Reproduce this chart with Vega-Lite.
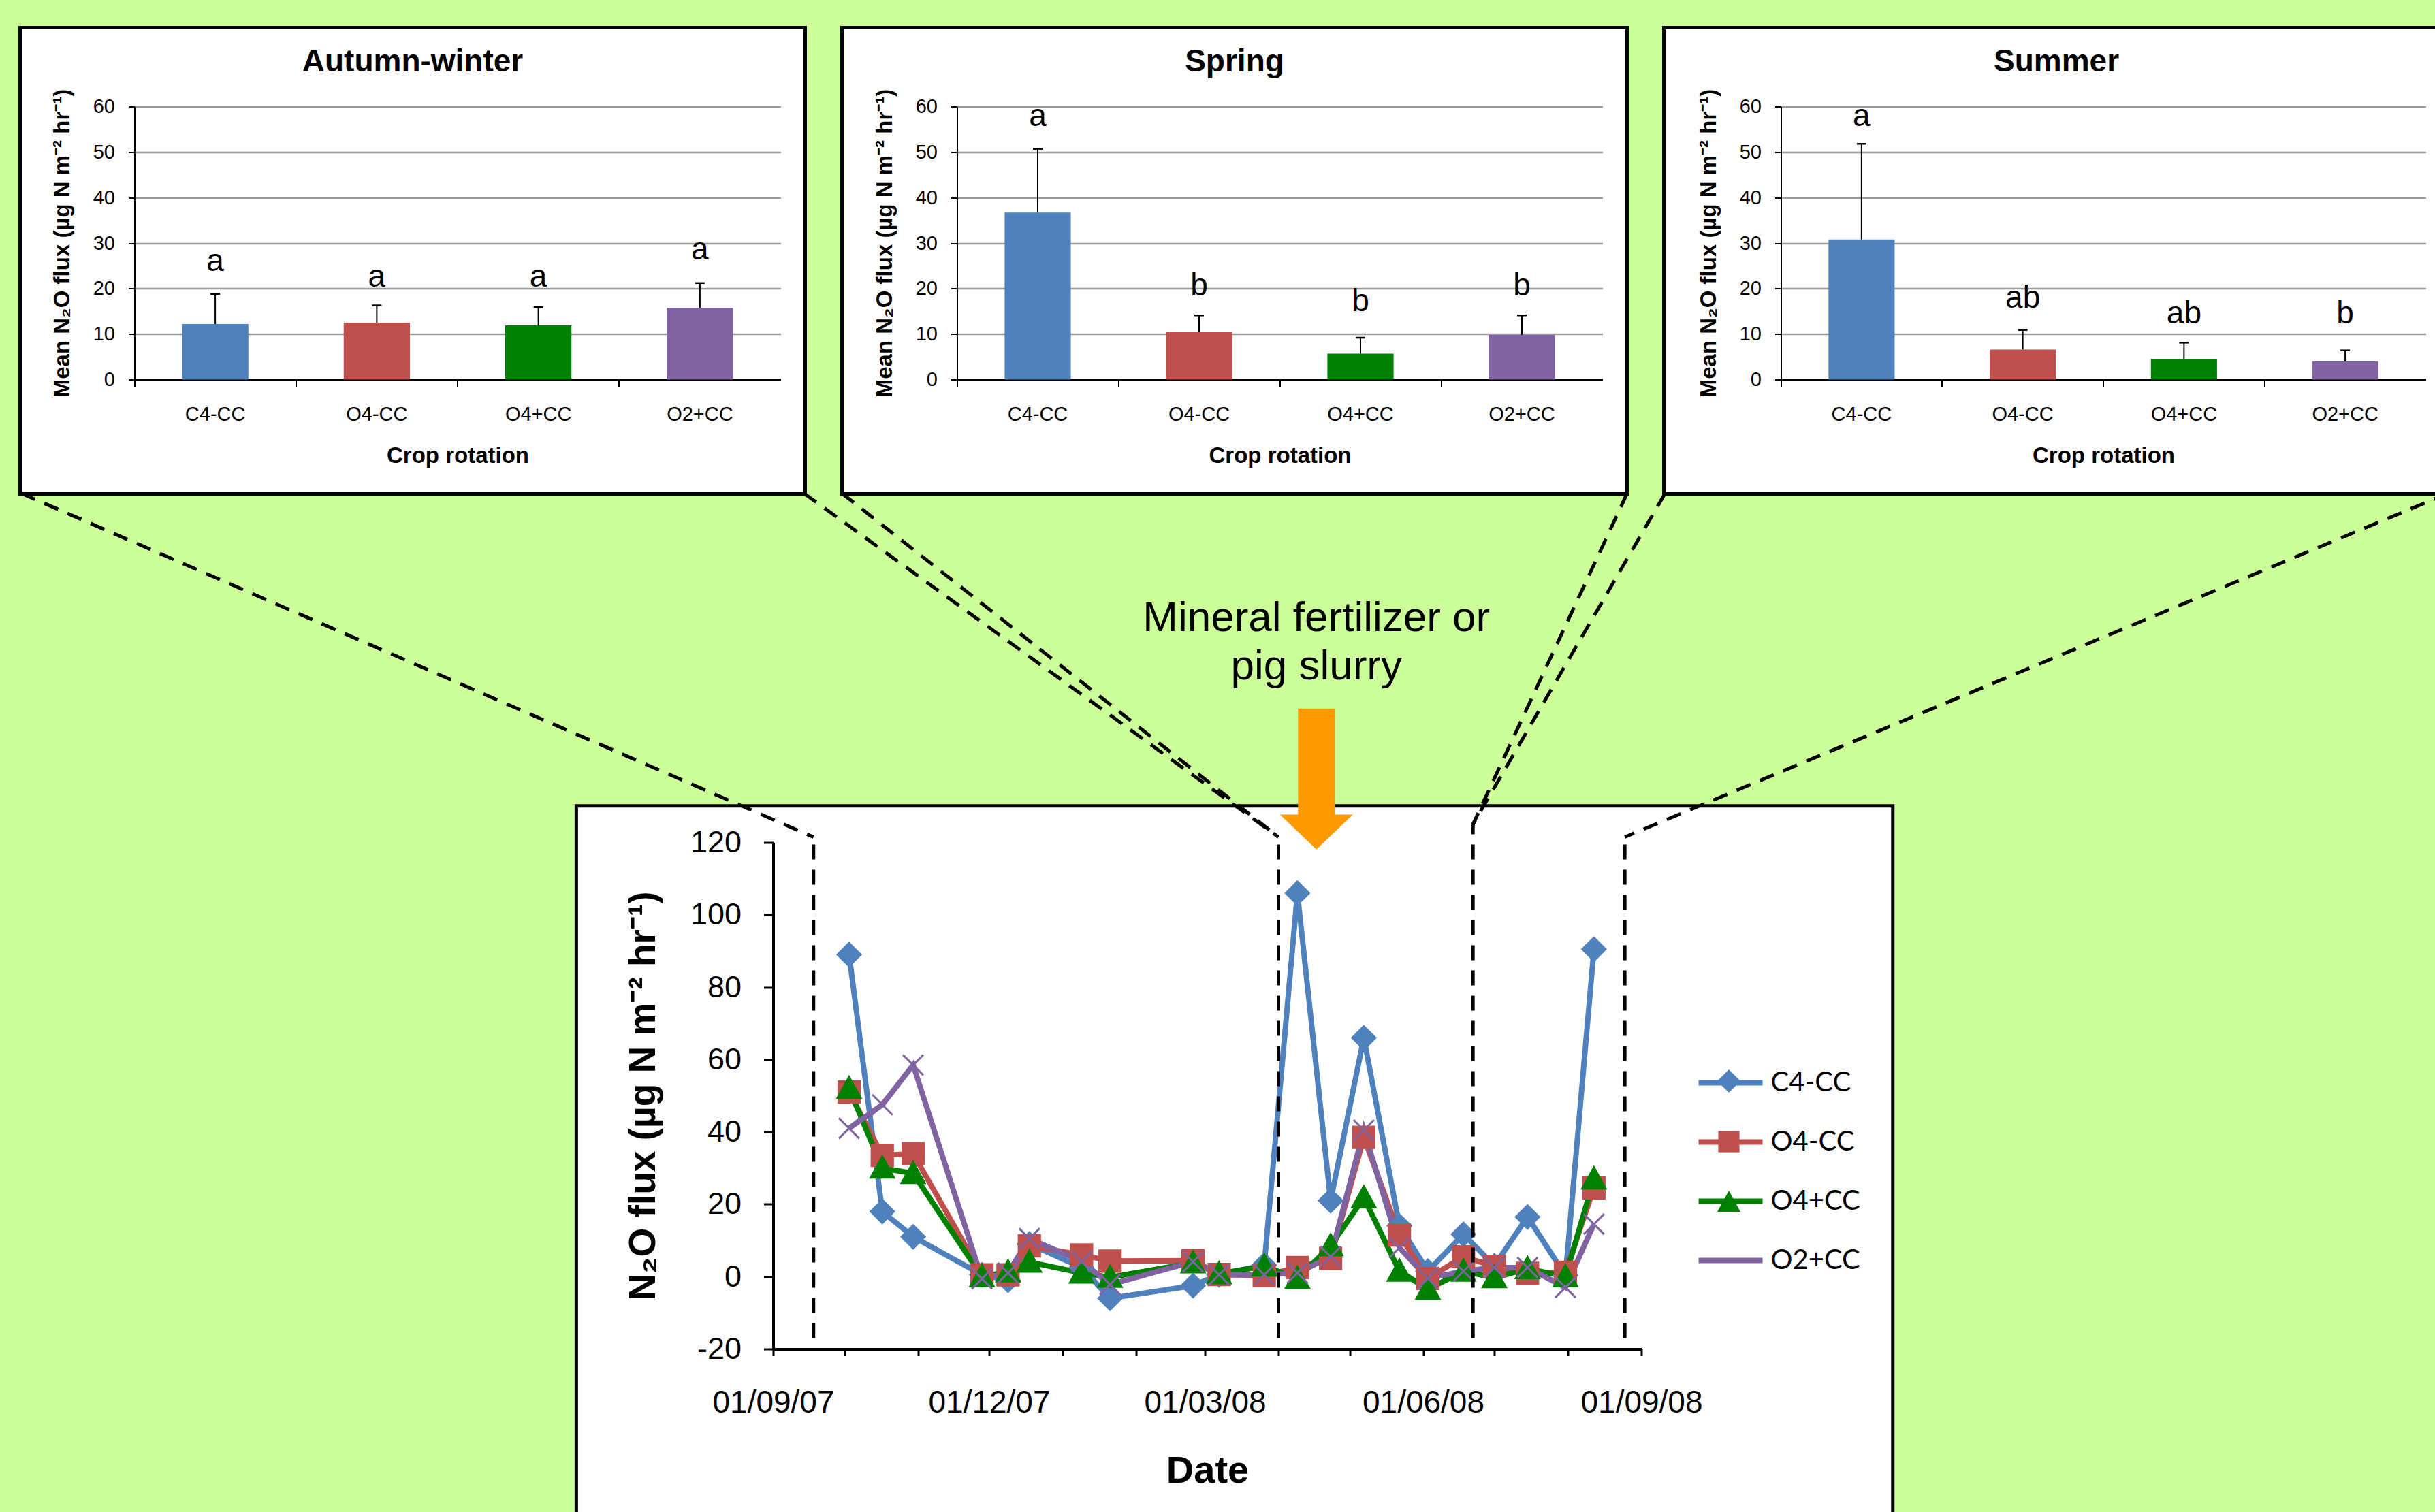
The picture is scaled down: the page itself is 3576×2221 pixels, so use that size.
{
  "$schema": "https://vega.github.io/schema/vega-lite/v6.json",
  "background": "#CCFF99",
  "padding": {"left": 26.5, "top": 37.5, "right": 0, "bottom": 0},
  "bounds": "full",
  "spacing": -7,
  "resolve": {"scale": {"color": "independent", "shape": "independent", "stroke": "independent"}, "legend": {"color": "independent", "shape": "independent", "stroke": "independent"}},
  "config": {
    "font": "Liberation Sans",
    "view": {"stroke": null},
    "axis": {"labelColor": "black", "titleColor": "black", "domainColor": "black", "tickColor": "black", "labelFont": "Liberation Sans", "titleFont": "Liberation Sans"},
    "title": {"color": "black", "font": "Liberation Sans"}
  },
  "datasets": {
    "n2o": [
      {"series": "C4-CC", "date": "2007-10-03", "value": 89},
      {"series": "C4-CC", "date": "2007-10-17", "value": 18},
      {"series": "C4-CC", "date": "2007-10-30", "value": 11},
      {"series": "C4-CC", "date": "2007-11-28", "value": 0.5},
      {"series": "C4-CC", "date": "2007-12-09", "value": -1},
      {"series": "C4-CC", "date": "2007-12-18", "value": 9},
      {"series": "C4-CC", "date": "2008-01-09", "value": 2.5},
      {"series": "C4-CC", "date": "2008-01-21", "value": -6},
      {"series": "C4-CC", "date": "2008-02-25", "value": -2.5},
      {"series": "C4-CC", "date": "2008-03-07", "value": 0.5},
      {"series": "C4-CC", "date": "2008-03-26", "value": 3.2},
      {"series": "C4-CC", "date": "2008-04-09", "value": 106},
      {"series": "C4-CC", "date": "2008-04-23", "value": 21},
      {"series": "C4-CC", "date": "2008-05-07", "value": 66},
      {"series": "C4-CC", "date": "2008-05-22", "value": 14},
      {"series": "C4-CC", "date": "2008-06-03", "value": 1.5},
      {"series": "C4-CC", "date": "2008-06-18", "value": 11.7},
      {"series": "C4-CC", "date": "2008-07-01", "value": 3},
      {"series": "C4-CC", "date": "2008-07-15", "value": 16.5},
      {"series": "C4-CC", "date": "2008-07-31", "value": 0.3},
      {"series": "C4-CC", "date": "2008-08-12", "value": 90.5},
      {"series": "O4-CC", "date": "2007-10-03", "value": 51},
      {"series": "O4-CC", "date": "2007-10-17", "value": 33.5},
      {"series": "O4-CC", "date": "2007-10-30", "value": 34},
      {"series": "O4-CC", "date": "2007-11-28", "value": 0.5},
      {"series": "O4-CC", "date": "2007-12-09", "value": 0.5},
      {"series": "O4-CC", "date": "2007-12-18", "value": 8.5},
      {"series": "O4-CC", "date": "2008-01-09", "value": 6},
      {"series": "O4-CC", "date": "2008-01-21", "value": 4.3},
      {"series": "O4-CC", "date": "2008-02-25", "value": 4.4},
      {"series": "O4-CC", "date": "2008-03-07", "value": 0.6},
      {"series": "O4-CC", "date": "2008-03-26", "value": 0.3},
      {"series": "O4-CC", "date": "2008-04-09", "value": 2.5},
      {"series": "O4-CC", "date": "2008-04-23", "value": 5},
      {"series": "O4-CC", "date": "2008-05-07", "value": 38.5},
      {"series": "O4-CC", "date": "2008-05-22", "value": 11.5},
      {"series": "O4-CC", "date": "2008-06-03", "value": -0.5},
      {"series": "O4-CC", "date": "2008-06-18", "value": 5.5},
      {"series": "O4-CC", "date": "2008-07-01", "value": 2.8},
      {"series": "O4-CC", "date": "2008-07-15", "value": 0.9},
      {"series": "O4-CC", "date": "2008-07-31", "value": 1.2},
      {"series": "O4-CC", "date": "2008-08-12", "value": 24.5},
      {"series": "O4+CC", "date": "2007-10-03", "value": 52},
      {"series": "O4+CC", "date": "2007-10-17", "value": 30},
      {"series": "O4+CC", "date": "2007-10-30", "value": 28.5},
      {"series": "O4+CC", "date": "2007-11-28", "value": 0},
      {"series": "O4+CC", "date": "2007-12-09", "value": 1.3},
      {"series": "O4+CC", "date": "2007-12-18", "value": 4},
      {"series": "O4+CC", "date": "2008-01-09", "value": 1},
      {"series": "O4+CC", "date": "2008-01-21", "value": -0.2},
      {"series": "O4+CC", "date": "2008-02-25", "value": 3.8},
      {"series": "O4+CC", "date": "2008-03-07", "value": 0.8},
      {"series": "O4+CC", "date": "2008-03-26", "value": 2.9},
      {"series": "O4+CC", "date": "2008-04-09", "value": -0.5},
      {"series": "O4+CC", "date": "2008-04-23", "value": 8.5},
      {"series": "O4+CC", "date": "2008-05-07", "value": 21.8},
      {"series": "O4+CC", "date": "2008-05-22", "value": 1.5},
      {"series": "O4+CC", "date": "2008-06-03", "value": -3.5},
      {"series": "O4+CC", "date": "2008-06-18", "value": 1.5},
      {"series": "O4+CC", "date": "2008-07-01", "value": -0.3},
      {"series": "O4+CC", "date": "2008-07-15", "value": 2.2},
      {"series": "O4+CC", "date": "2008-07-31", "value": 0},
      {"series": "O4+CC", "date": "2008-08-12", "value": 27},
      {"series": "O2+CC", "date": "2007-10-03", "value": 41},
      {"series": "O2+CC", "date": "2007-10-17", "value": 47.5},
      {"series": "O2+CC", "date": "2007-10-30", "value": 58.5},
      {"series": "O2+CC", "date": "2007-11-28", "value": -0.6},
      {"series": "O2+CC", "date": "2007-12-09", "value": 1},
      {"series": "O2+CC", "date": "2007-12-18", "value": 10.5},
      {"series": "O2+CC", "date": "2008-01-09", "value": 4.2},
      {"series": "O2+CC", "date": "2008-01-21", "value": -2.2},
      {"series": "O2+CC", "date": "2008-02-25", "value": 4.1},
      {"series": "O2+CC", "date": "2008-03-07", "value": 0.5},
      {"series": "O2+CC", "date": "2008-03-26", "value": 0.5},
      {"series": "O2+CC", "date": "2008-04-09", "value": 1},
      {"series": "O2+CC", "date": "2008-04-23", "value": 5.5},
      {"series": "O2+CC", "date": "2008-05-07", "value": 40.5},
      {"series": "O2+CC", "date": "2008-05-22", "value": 8},
      {"series": "O2+CC", "date": "2008-06-03", "value": -0.5},
      {"series": "O2+CC", "date": "2008-06-18", "value": 1.5},
      {"series": "O2+CC", "date": "2008-07-01", "value": 2.5},
      {"series": "O2+CC", "date": "2008-07-15", "value": 2.5},
      {"series": "O2+CC", "date": "2008-07-31", "value": -3},
      {"series": "O2+CC", "date": "2008-08-12", "value": 14.5}
    ]
  },
  "vconcat": [
    {
      "hconcat": [
        {
          "width": 1153, "height": 685,
          "view": {"fill": "white", "stroke": "black", "strokeWidth": 5},
          "title": {"text": "Autumn-winter", "fontSize": 46, "fontWeight": "bold", "offset": -74, "anchor": "middle", "frame": "group"},
          "data": {"values": [
            {"crop": "C4-CC", "mean": 12.2, "upper": 18.8, "letter": "a", "label_y": 23.8},
            {"crop": "O4-CC", "mean": 12.5, "upper": 16.3, "letter": "a", "label_y": 20.4},
            {"crop": "O4+CC", "mean": 11.9, "upper": 15.9, "letter": "a", "label_y": 20.4},
            {"crop": "O2+CC", "mean": 15.8, "upper": 21.2, "letter": "a", "label_y": 26.4}
          ]},
          "encoding": {
            "x": {"field": "crop", "type": "nominal", "sort": ["C4-CC", "O4-CC", "O4+CC", "O2+CC"],
              "scale": {"type": "band", "range": [168, 1117], "paddingInner": 0, "paddingOuter": 0},
              "axis": {"orient": "bottom", "offset": -168, "bandPosition": 0, "labelAngle": 0, "tickSize": 10, "tickWidth": 2, "domainWidth": 3, "labelFontSize": 29, "labelPadding": 27, "title": "Crop rotation", "titleFontSize": 33, "titleFontWeight": "bold", "titlePadding": 30, "grid": false}},
            "y": {"field": "mean", "type": "quantitative",
              "scale": {"domain": [0, 60], "range": [517, 116], "nice": false},
              "axis": {"orient": "left", "offset": -168, "values": [0, 10, 20, 30, 40, 50, 60], "tickSize": 9, "tickWidth": 2, "domainWidth": 2, "labelFontSize": 29, "labelPadding": 20, "grid": true, "gridColor": "#9a9a9a", "gridWidth": 2.5, "title": "Mean N₂O flux (µg N m⁻² hr⁻¹)", "titleFontSize": 33, "titleFontWeight": "bold", "titlePadding": 28}}
          },
          "layer": [
            {"mark": {"type": "bar", "width": {"band": 0.41}}, "encoding": {"color": {"field": "crop", "type": "nominal", "scale": {"domain": ["C4-CC", "O4-CC", "O4+CC", "O2+CC"], "range": ["#4F81BD", "#C0504D", "#008000", "#8064A2"]}, "legend": null}}},
            {"mark": {"type": "rule", "color": "black", "strokeWidth": 2}, "encoding": {"y2": {"field": "upper"}}},
            {"mark": {"type": "tick", "color": "black", "size": 14, "thickness": 2.5, "opacity": 1}, "encoding": {"y": {"field": "upper", "type": "quantitative", "title": "Mean N₂O flux (µg N m⁻² hr⁻¹)"}}},
            {"mark": {"type": "text", "fontSize": 46, "baseline": "alphabetic", "align": "center", "color": "black"}, "encoding": {"y": {"field": "label_y", "type": "quantitative", "title": "Mean N₂O flux (µg N m⁻² hr⁻¹)"}, "text": {"field": "letter"}}}
          ]
        },
        {
          "width": 1153, "height": 685,
          "view": {"fill": "white", "stroke": "black", "strokeWidth": 5},
          "title": {"text": "Spring", "fontSize": 46, "fontWeight": "bold", "offset": -74, "anchor": "middle", "frame": "group"},
          "data": {"values": [
            {"crop": "C4-CC", "mean": 36.7, "upper": 50.7, "letter": "a", "label_y": 55.7},
            {"crop": "O4-CC", "mean": 10.4, "upper": 14.1, "letter": "b", "label_y": 18.5},
            {"crop": "O4+CC", "mean": 5.7, "upper": 9.2, "letter": "b", "label_y": 15.1},
            {"crop": "O2+CC", "mean": 9.8, "upper": 14.1, "letter": "b", "label_y": 18.5}
          ]},
          "encoding": {
            "x": {"field": "crop", "type": "nominal", "sort": ["C4-CC", "O4-CC", "O4+CC", "O2+CC"],
              "scale": {"type": "band", "range": [169, 1117], "paddingInner": 0, "paddingOuter": 0},
              "axis": {"orient": "bottom", "offset": -168, "bandPosition": 0, "labelAngle": 0, "tickSize": 10, "tickWidth": 2, "domainWidth": 3, "labelFontSize": 29, "labelPadding": 27, "title": "Crop rotation", "titleFontSize": 33, "titleFontWeight": "bold", "titlePadding": 30, "grid": false}},
            "y": {"field": "mean", "type": "quantitative",
              "scale": {"domain": [0, 60], "range": [517, 116], "nice": false},
              "axis": {"orient": "left", "offset": -169, "values": [0, 10, 20, 30, 40, 50, 60], "tickSize": 9, "tickWidth": 2, "domainWidth": 2, "labelFontSize": 29, "labelPadding": 20, "grid": true, "gridColor": "#9a9a9a", "gridWidth": 2.5, "title": "Mean N₂O flux (µg N m⁻² hr⁻¹)", "titleFontSize": 33, "titleFontWeight": "bold", "titlePadding": 28}}
          },
          "layer": [
            {"mark": {"type": "bar", "width": {"band": 0.41}}, "encoding": {"color": {"field": "crop", "type": "nominal", "scale": {"domain": ["C4-CC", "O4-CC", "O4+CC", "O2+CC"], "range": ["#4F81BD", "#C0504D", "#008000", "#8064A2"]}, "legend": null}}},
            {"mark": {"type": "rule", "color": "black", "strokeWidth": 2}, "encoding": {"y2": {"field": "upper"}}},
            {"mark": {"type": "tick", "color": "black", "size": 14, "thickness": 2.5, "opacity": 1}, "encoding": {"y": {"field": "upper", "type": "quantitative", "title": "Mean N₂O flux (µg N m⁻² hr⁻¹)"}}},
            {"mark": {"type": "text", "fontSize": 46, "baseline": "alphabetic", "align": "center", "color": "black"}, "encoding": {"y": {"field": "label_y", "type": "quantitative", "title": "Mean N₂O flux (µg N m⁻² hr⁻¹)"}, "text": {"field": "letter"}}}
          ]
        },
        {
          "width": 1153, "height": 685,
          "view": {"fill": "white", "stroke": "black", "strokeWidth": 5},
          "title": {"text": "Summer", "fontSize": 46, "fontWeight": "bold", "offset": -74, "anchor": "middle", "frame": "group"},
          "data": {"values": [
            {"crop": "C4-CC", "mean": 30.8, "upper": 51.8, "letter": "a", "label_y": 55.7},
            {"crop": "O4-CC", "mean": 6.6, "upper": 10.9, "letter": "ab", "label_y": 15.8},
            {"crop": "O4+CC", "mean": 4.5, "upper": 8.1, "letter": "ab", "label_y": 12.3},
            {"crop": "O2+CC", "mean": 4.0, "upper": 6.4, "letter": "b", "label_y": 12.3}
          ]},
          "encoding": {
            "x": {"field": "crop", "type": "nominal", "sort": ["C4-CC", "O4-CC", "O4+CC", "O2+CC"],
              "scale": {"type": "band", "range": [172, 1119], "paddingInner": 0, "paddingOuter": 0},
              "axis": {"orient": "bottom", "offset": -168, "bandPosition": 0, "labelAngle": 0, "tickSize": 10, "tickWidth": 2, "domainWidth": 3, "labelFontSize": 29, "labelPadding": 27, "title": "Crop rotation", "titleFontSize": 33, "titleFontWeight": "bold", "titlePadding": 30, "grid": false}},
            "y": {"field": "mean", "type": "quantitative",
              "scale": {"domain": [0, 60], "range": [517, 116], "nice": false},
              "axis": {"orient": "left", "offset": -172, "values": [0, 10, 20, 30, 40, 50, 60], "tickSize": 9, "tickWidth": 2, "domainWidth": 2, "labelFontSize": 29, "labelPadding": 20, "grid": true, "gridColor": "#9a9a9a", "gridWidth": 2.5, "title": "Mean N₂O flux (µg N m⁻² hr⁻¹)", "titleFontSize": 33, "titleFontWeight": "bold", "titlePadding": 28}}
          },
          "layer": [
            {"mark": {"type": "bar", "width": {"band": 0.41}}, "encoding": {"color": {"field": "crop", "type": "nominal", "scale": {"domain": ["C4-CC", "O4-CC", "O4+CC", "O2+CC"], "range": ["#4F81BD", "#C0504D", "#008000", "#8064A2"]}, "legend": null}}},
            {"mark": {"type": "rule", "color": "black", "strokeWidth": 2}, "encoding": {"y2": {"field": "upper"}}},
            {"mark": {"type": "tick", "color": "black", "size": 14, "thickness": 2.5, "opacity": 1}, "encoding": {"y": {"field": "upper", "type": "quantitative", "title": "Mean N₂O flux (µg N m⁻² hr⁻¹)"}}},
            {"mark": {"type": "text", "fontSize": 46, "baseline": "alphabetic", "align": "center", "color": "black"}, "encoding": {"y": {"field": "label_y", "type": "quantitative", "title": "Mean N₂O flux (µg N m⁻² hr⁻¹)"}, "text": {"field": "letter"}}}
          ]
        }
      ],
      "spacing": 54,
      "bounds": "flush",
      "resolve": {"scale": {"color": "independent"}, "legend": {"color": "independent"}}
    },
    {
      "width": 2751, "height": 1042,
      "view": {"stroke": null, "fill": null},
      "resolve": {"legend": {"color": "independent", "shape": "independent"}},
      "encoding": {
        "x": {"field": "date", "type": "temporal",
          "scale": {"type": "utc", "domain": [{"year": 2007, "month": 9, "date": 1, "utc": true}, {"year": 2008, "month": 9, "date": 1, "utc": true}], "range": [1106, 2381], "nice": false},
          "axis": {"orient": "bottom", "offset": -245, "zindex": 1,
            "values": [
              {"year": 2007, "month": 9, "date": 1, "utc": true},
              {"year": 2007, "month": 10, "date": 1, "utc": true},
              {"year": 2007, "month": 11, "date": 1, "utc": true},
              {"year": 2007, "month": 12, "date": 1, "utc": true},
              {"year": 2008, "month": 1, "date": 1, "utc": true},
              {"year": 2008, "month": 2, "date": 1, "utc": true},
              {"year": 2008, "month": 3, "date": 1, "utc": true},
              {"year": 2008, "month": 4, "date": 1, "utc": true},
              {"year": 2008, "month": 5, "date": 1, "utc": true},
              {"year": 2008, "month": 6, "date": 1, "utc": true},
              {"year": 2008, "month": 7, "date": 1, "utc": true},
              {"year": 2008, "month": 8, "date": 1, "utc": true},
              {"year": 2008, "month": 9, "date": 1, "utc": true}
            ],
            "labelExpr": "utcmonth(datum.value) % 3 == 2 ? utcFormat(datum.value, '%d/%m/%y') : ''",
            "labelOverlap": false, "labelFlush": false, "tickSize": 10, "tickWidth": 3, "domainWidth": 4, "labelFontSize": 46, "labelPadding": 47, "title": "Date", "titleFontSize": 56, "titleFontWeight": "bold", "titlePadding": 50, "grid": false}},
        "y": {"field": "value", "type": "quantitative",
          "scale": {"domain": [-20, 120], "range": [797, 53], "nice": false, "zero": false},
          "axis": {"orient": "left", "offset": -1106, "zindex": 1, "values": [-20, 0, 20, 40, 60, 80, 100, 120], "labelExpr": "'' + datum.value", "labelFlush": false, "tickSize": 14, "tickWidth": 3, "domainWidth": 4, "labelFontSize": 45, "labelPadding": 33, "title": "N₂O flux (µg N m⁻² hr⁻¹)", "titleFontSize": 55, "titleFontWeight": "bold", "titlePadding": 40, "grid": false}}
      },
      "layer": [
        {
          "data": {"values": [{"date": "2007-06-10", "date2": "2008-12-16", "value": 130.1, "value2": -66}], "format": {"parse": {"date": "date", "date2": "date"}}},
          "mark": {"type": "rect", "fill": "white", "stroke": "black", "strokeWidth": 5, "opacity": 1},
          "encoding": {"x2": {"field": "date2"}, "y2": {"field": "value2"}}
        },
        {
          "data": {"values": [
            {"date": "2006-10-19", "value": 216.5, "date2": "2007-09-18", "value2": 121.5},
            {"date": "2007-09-14", "value": 216.5, "date2": "2008-04-01", "value2": 121.5},
            {"date": "2007-09-30", "value": 216.5, "date2": "2008-04-01", "value2": 121.5},
            {"date": "2008-08-26", "value": 216.5, "date2": "2008-06-22", "value2": 125},
            {"date": "2008-09-11", "value": 216.5, "date2": "2008-06-22", "value2": 125},
            {"date": "2009-08-07", "value": 216.5, "date2": "2008-08-25", "value2": 121.5}
          ], "format": {"parse": {"date": "date", "date2": "date"}}},
          "mark": {"type": "rule", "color": "black", "strokeWidth": 5, "strokeDash": [22, 15]},
          "encoding": {"x2": {"field": "date2"}, "y2": {"field": "value2"}}
        },
        {
          "data": {"name": "n2o"},
          "mark": {"type": "line", "strokeWidth": 8},
          "encoding": {
            "color": {"field": "series", "type": "nominal",
              "scale": {"domain": ["C4-CC", "O4-CC", "O4+CC", "O2+CC"], "range": ["#4F81BD", "#C0504D", "#008000", "#8064A2"]},
              "legend": {"orient": "none", "legendX": 2488, "legendY": 382, "title": null, "direction": "vertical", "padding": 0,
                "symbolType": "M-2.35,0L2.35,0", "symbolSize": 1600, "symbolStrokeWidth": 8, "symbolOpacity": 1,
                "labelFont": "Lato", "labelFontSize": 40, "labelColor": "black", "labelOffset": 35, "rowPadding": 43}
            }
          }
        },
        {
          "data": {"name": "n2o"},
          "mark": {"type": "point", "filled": true, "size": 1600, "strokeWidth": 3, "opacity": 1},
          "encoding": {
            "color": {"field": "series", "type": "nominal", "scale": {"domain": ["C4-CC", "O4-CC", "O4+CC", "O2+CC"], "range": ["#4F81BD", "#C0504D", "#008000", "#8064A2"]},
              "legend": {"orient": "none", "legendX": 2488, "legendY": 382, "title": null, "direction": "vertical", "padding": 0,
                "symbolSize": 1600, "symbolStrokeWidth": 3, "symbolOpacity": 1,
                "labelFont": "Lato", "labelFontSize": 40, "labelOpacity": 0, "labelOffset": 35, "rowPadding": 43}},
            "stroke": {"field": "series", "type": "nominal", "scale": {"domain": ["C4-CC", "O4-CC", "O4+CC", "O2+CC"], "range": ["#4F81BD", "#C0504D", "#008000", "#8064A2"]}, "legend": null},
            "shape": {"field": "series", "type": "nominal", "scale": {"domain": ["C4-CC", "O4-CC", "O4+CC", "O2+CC"], "range": ["M0,-0.85L0.85,0L0,0.85L-0.85,0Z", "M-0.78,-0.78L0.78,-0.78L0.78,0.78L-0.78,0.78Z", "M0,-0.85L0.85,0.7L-0.85,0.7Z", "M-0.75,-0.75L0.75,0.75M-0.75,0.75L0.75,-0.75"]},
              "legend": {"orient": "none", "legendX": 2488, "legendY": 382, "title": null, "direction": "vertical", "padding": 0,
                "symbolSize": 1600, "symbolStrokeWidth": 3, "symbolOpacity": 1,
                "labelFont": "Lato", "labelFontSize": 40, "labelOpacity": 0, "labelOffset": 35, "rowPadding": 43}}
          }
        },
        {
          "data": {"values": [
            {"date": "2007-09-18", "value": -17, "value2": 121.5},
            {"date": "2008-04-01", "value": -17, "value2": 121.5},
            {"date": "2008-06-22", "value": -17, "value2": 125},
            {"date": "2008-08-25", "value": -17, "value2": 121.5}
          ]},
          "mark": {"type": "rule", "color": "black", "strokeWidth": 5, "strokeDash": [22, 15]},
          "encoding": {"y2": {"field": "value2"}}
        },
        {
          "data": {"values": [{"date": "2008-04-17", "value": 157, "value2": 126}]},
          "mark": {"type": "rule", "color": "#FF9900", "strokeWidth": 54, "strokeCap": "butt"},
          "encoding": {"y2": {"field": "value2"}}
        },
        {
          "data": {"values": [{"date": "2008-04-17", "value": 122.9}]},
          "mark": {"type": "point", "filled": true, "shape": "M-1,-0.48L1,-0.48L0,0.48Z", "size": 11449, "color": "#FF9900", "opacity": 1, "strokeWidth": 0}
        },
        {
          "data": {"values": [
            {"date": "2008-04-17", "value": 178.5, "label": "Mineral fertilizer or"},
            {"date": "2008-04-17", "value": 165, "label": "pig slurry"}
          ]},
          "mark": {"type": "text", "fontSize": 62, "align": "center", "baseline": "alphabetic", "color": "black"},
          "encoding": {"text": {"field": "label"}}
        }
      ]
    }
  ]
}
